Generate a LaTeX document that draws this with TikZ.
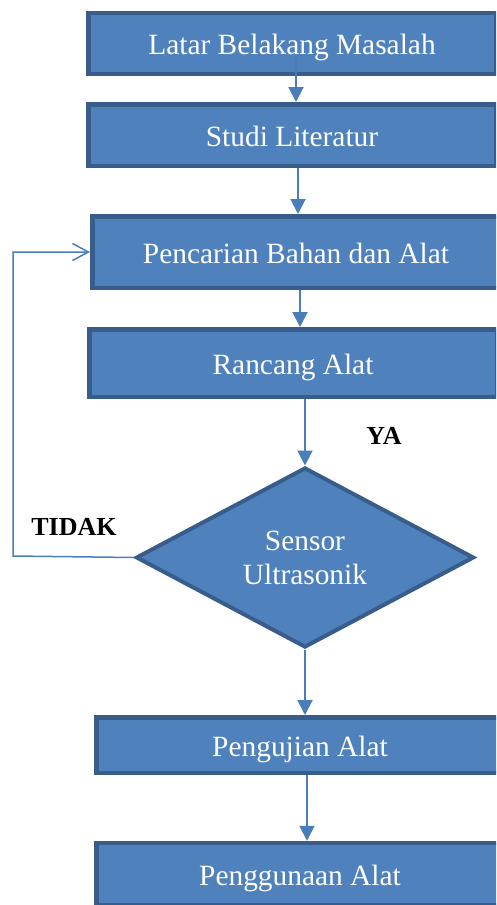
\documentclass[tikz,border=0pt]{standalone}
\usepackage{fontspec}
\setmainfont{Liberation Serif}
\usetikzlibrary{arrows.meta,shapes.geometric,calc}
\definecolor{boxfill}{HTML}{4F81BD}
\definecolor{boxedge}{HTML}{385D8A}
\definecolor{linkblue}{HTML}{4A7EBB}
\tikzset{
  chart/.style={font=\fontsize{29.4}{34}\selectfont,
    line width=2pt, >={Triangle[length=15pt,width=15pt]}},
  block/.style={draw=boxedge,fill=boxfill,line width=4.5pt,text=white,
    minimum width=407.5pt,inner sep=0pt,align=center,
    text height=22.5pt,text depth=0pt},
  decision/.style={diamond,draw=boxedge,fill=boxfill,line width=4pt,text=white,
    aspect=1.87,minimum width=338pt,minimum height=180pt,inner sep=1pt,align=center},
  flow/.style={->,draw=linkblue,line width=2pt},
  loopback/.style={-{Straight Barb[length=16pt,width=17pt]},draw=linkblue,line width=1.5pt},
  answer/.style={font=\fontsize{26}{30}\selectfont\bfseries,inner sep=0pt,text=black},
}

\begin{document}
\begin{tikzpicture}[chart,x=1pt,y=-1pt]
  % Page is 496 x 905; the boxes run past the right edge and are cut there.
  \path[use as bounding box] (0,0) rectangle (496,905);
  \clip (0,0) rectangle (496,905);

  % ---------------- main steps ----------------
  \node[block,minimum height=61pt]   (latar)   at (292,43.5) {Latar Belakang Masalah};
  \node[block,minimum height=61.5pt] (studi)   at (292,135)  {Studi Literatur};
  \node[block,minimum height=71.5pt] (cari)    at (296,252)  {Pencarian Bahan dan Alat};
  \node[block,minimum height=67.5pt] (rancang) at (293,363)  {Rancang Alat};
  \node[decision] (sensor) at (305,557.5) {Sensor\\Ultrasonik};
  \node[block,minimum height=55.5pt] (uji)     at (300,745)  {Pengujian Alat};
  \node[block,minimum height=62pt]   (guna)    at (300,874)  {Penggunaan Alat};

  % The first stem starts inside the top box, below its text.
  \coordinate (latarstem) at (296,55);
  \draw[flow] (latarstem) -- (latarstem |- studi.north);
  \draw[flow] ([xshift=6pt]studi.south) -- ([xshift=6pt]studi.south |- cari.north);
  \draw[flow] ([xshift=4pt]cari.south) -- ([xshift=4pt]cari.south |- rancang.north);
  \draw[flow] (sensor.north |- rancang.south) -- (sensor.north);
  \draw[flow] (sensor.south) -- (sensor.south |- uji.north);
  \draw[flow] ([xshift=7pt]uji.south) -- ([xshift=7pt]uji.south |- guna.north);

  % ---------------- decision answers ----------------
  \node[answer] (ya)    at (384,436) {YA};
  \node[answer] (tidak) at (74,527)  {TIDAK};

  % Back to the search for materials when the sensor fails.
  \coordinate (bend) at (13,556);
  \draw[loopback] (sensor.west) -- (bend) |- (cari.west);
\end{tikzpicture}
\end{document}
